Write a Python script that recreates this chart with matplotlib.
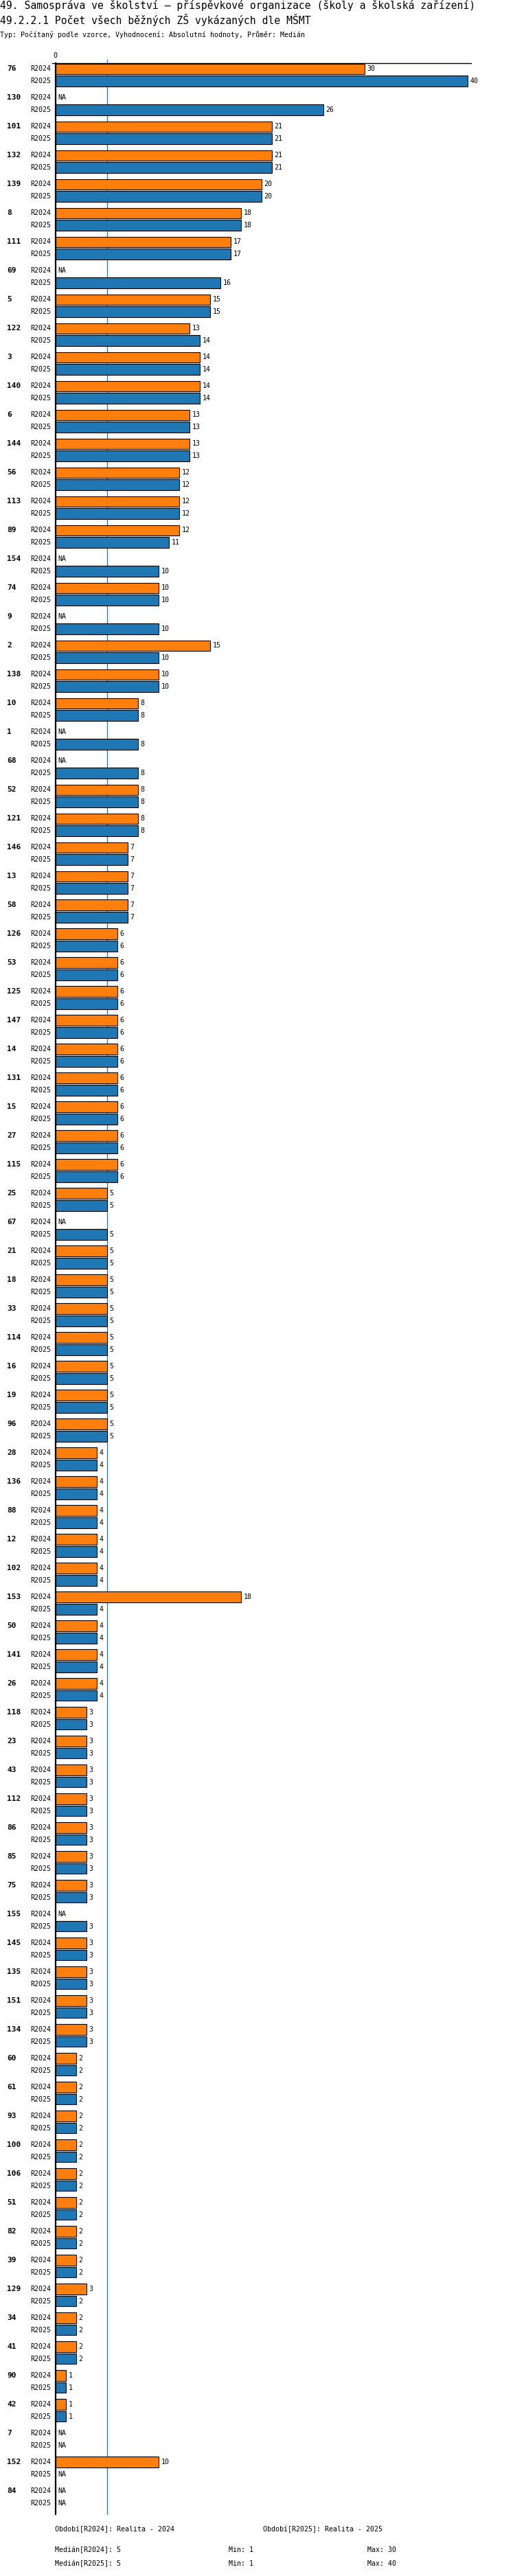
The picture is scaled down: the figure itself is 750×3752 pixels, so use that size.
import numpy as np
import matplotlib
matplotlib.use("Agg")
import matplotlib.pyplot as plt
from matplotlib import transforms

plt.rcParams['font.family'] = ['DejaVu Sans Mono', 'DejaVu Sans']

# --- data -------------------------------------------------------------
NA = np.nan
groups = ['76', '130', '101', '132', '139', '8', '111', '69', '5', '122',
          '3', '140', '6', '144', '56', '113', '89', '154', '74', '9',
          '2', '138', '10', '1', '68', '52', '121', '146', '13', '58',
          '126', '53', '125', '147', '14', '131', '15', '27', '115', '25',
          '67', '21', '18', '33', '114', '16', '19', '96', '28', '136',
          '88', '12', '102', '153', '50', '141', '26', '118', '23', '43',
          '112', '86', '85', '75', '155', '145', '135', '151', '134', '60',
          '61', '93', '100', '106', '51', '82', '39', '129', '34', '41',
          '90', '42', '7', '152', '84']
r2024 = [30, NA, 21, 21, 20, 18, 17, NA, 15, 13,
         14, 14, 13, 13, 12, 12, 12, NA, 10, NA,
         15, 10, 8, NA, NA, 8, 8, 7, 7, 7,
         6, 6, 6, 6, 6, 6, 6, 6, 6, 5,
         NA, 5, 5, 5, 5, 5, 5, 5, 4, 4,
         4, 4, 4, 18, 4, 4, 4, 3, 3, 3,
         3, 3, 3, 3, NA, 3, 3, 3, 3, 2,
         2, 2, 2, 2, 2, 2, 2, 3, 2, 2,
         1, 1, NA, 10, NA]
r2025 = [40, 26, 21, 21, 20, 18, 17, 16, 15, 14,
         14, 14, 13, 13, 12, 12, 11, 10, 10, 10,
         10, 10, 8, 8, 8, 8, 8, 7, 7, 7,
         6, 6, 6, 6, 6, 6, 6, 6, 6, 5,
         5, 5, 5, 5, 5, 5, 5, 5, 4, 4,
         4, 4, 4, 4, 4, 4, 4, 3, 3, 3,
         3, 3, 3, 3, 3, 3, 3, 3, 3, 2,
         2, 2, 2, 2, 2, 2, 2, 2, 2, 2,
         1, 1, NA, NA, NA]
periods = ['R2024', 'R2025']
period_names = ['Realita - 2024', 'Realita - 2025']

title1 = '49. Samospráva ve školství – příspěvkové organizace (školy a školská zařízení)'
title2 = '49.2.2.1 Počet všech běžných ZŠ vykázaných dle MŠMT'
subtitle = 'Typ: Počítaný podle vzorce, Vyhodnocení: Absolutní hodnoty, Průměr: Medián'

c24 = '#ff7f0e'
c25 = '#1f77b4'

# --- layout (pixels) --------------------------------------------------
W, H = 750, 3752
ax_left, ax_right = 80.7, 685.7
ax_top, ax_bot = 92.3, 3662.0
pitch = 42.0        # one group
slot = 18.2         # offset of the second bar
bar_h = 15.2

fig = plt.figure(figsize=(W / 100, H / 100), dpi=100)
ax = fig.add_axes([ax_left / W, 1 - ax_bot / H,
                   (ax_right - ax_left) / W, (ax_bot - ax_top) / H])

n = len(groups)
a24 = np.array(r2024, dtype=float)
a25 = np.array(r2025, dtype=float)
idx = np.arange(n)
y24 = idx * pitch + bar_h / 2 + 0.3
y25 = idx * pitch + slot + bar_h / 2

ax.barh(y24, np.nan_to_num(a24), height=bar_h, color=c24,
        edgecolor='black', linewidth=0.8, zorder=3)
ax.barh(y25, np.nan_to_num(a25), height=bar_h, color=c25,
        edgecolor='black', linewidth=0.8, zorder=3)

ax.set_xlim(0, (ax_right - ax_left) / 15.0)
ax.set_ylim(n * pitch, 0)
ax.set_xticks([])
ax.set_yticks([])
for s in ['top', 'right', 'bottom']:
    ax.spines[s].set_visible(False)
ax.spines['left'].set_linewidth(1.6)
ax.spines['left'].set_zorder(5)

# median line (behind bars), a bit above the top rule
med24 = np.nanmedian(a24)
ax.plot([med24, med24], [-5, n * pitch], color='#2f6faa', lw=0.9,
        zorder=1, clip_on=False)
# top rule
ax.plot([-0.31, (ax_right - ax_left) / 15.0], [0, 0], color='black',
        lw=1.0, zorder=4, clip_on=False)
ax.text(0, -11.3, '0', ha='center', va='center', fontsize=7.2)

trans = transforms.blended_transform_factory(fig.transFigure, ax.transData)

for i in range(n):
    ax.text(10 / W, y24[i], groups[i], transform=trans, ha='left',
            va='center', fontsize=8, fontweight='bold')
    for yy, vals, lab in ((y24, a24, periods[0]), (y25, a25, periods[1])):
        ax.text(74 / W, yy[i], lab, transform=trans, ha='right',
                va='center', fontsize=7.2)
        v = vals[i]
        if np.isnan(v):
            ax.annotate('NA', (0, yy[i]), xytext=(2.8, 0),
                        textcoords='offset points', ha='left',
                        va='center', fontsize=7.2)
        else:
            ax.annotate('%d' % v, (v, yy[i]), xytext=(2.8, 0),
                        textcoords='offset points', ha='left',
                        va='center', fontsize=7.2)

# --- titles -----------------------------------------------------------
fig.text(0, 1 - 13.5 / H, title1, ha='left', va='baseline', fontsize=10.6)
fig.text(0, 1 - 35 / H, title2, ha='left', va='baseline', fontsize=10.6)
fig.text(0, 1 - 54.5 / H, subtitle, ha='left', va='baseline', fontsize=7.2)

# --- footer -----------------------------------------------------------
def ftext(x, y, s):
    fig.text(x / W, 1 - y / H, s, ha='left', va='center', fontsize=7.2)

ftext(80, 3684, 'Období[%s]: %s' % (periods[0], period_names[0]))
ftext(383, 3684, 'Období[%s]: %s' % (periods[1], period_names[1]))
for k, (p, vals) in enumerate(zip(periods, [a24, a25])):
    yy = 3714 + 20 * k
    ftext(80, yy, 'Medián[%s]: %g' % (p, np.nanmedian(vals)))
    ftext(333, yy, 'Min: %g' % np.nanmin(vals))
    ftext(535, yy, 'Max: %g' % np.nanmax(vals))

fig.savefig('out.png', dpi=100)
